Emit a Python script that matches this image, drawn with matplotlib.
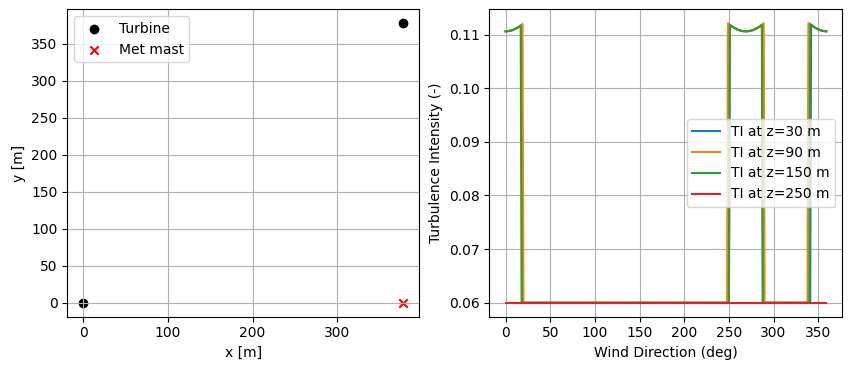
import numpy as np
import matplotlib
matplotlib.use("Agg")
import matplotlib.pyplot as plt

# ---- Layout data (left panel) ----
turbine_x = [0, 378]
turbine_y = [0, 378]
mast_x = [378]
mast_y = [0]

# ---- TI data (right panel) ----
wind_dir = list(range(0, 360))
ti_ambient = 0.06
# TI inside a wake sector, by angular offset from the sector centre (0..20 deg)
sector_profile = [0.11060, 0.11060, 0.11062, 0.11063, 0.11066, 0.11069, 0.11073,
                  0.11078, 0.11084, 0.11090, 0.11098, 0.11105, 0.11114, 0.11123,
                  0.11133, 0.11144, 0.11156, 0.11168, 0.11181, 0.11195, 0.11210]
# wake sectors (start, end) per height
sectors_30 = [(342, 359), (0, 18), (251, 287)]
sectors_90 = [(339, 359), (0, 19), (249, 289)]
sectors_150 = [(341, 359), (0, 17), (251, 287)]
sectors_250 = []
labels = ["TI at z=30 m", "TI at z=90 m", "TI at z=150 m", "TI at z=250 m"]
centres = [0, 269]


def build(sectors):
    vals = []
    for d in wind_dir:
        v = ti_ambient
        for (a, b) in sectors:
            if a <= d <= b:
                off = min(abs(d - c) if c else min(d, 360 - d) for c in centres)
                off = min(off, 20)
                v = sector_profile[off]
        vals.append(v)
    return vals


fig = plt.figure(figsize=(8.51, 3.71), dpi=100)
ax1 = fig.add_axes([67.3 / 851, 54.3 / 371, 352 / 851, 307.4 / 371])
ax2 = fig.add_axes([489.5 / 851, 54.3 / 371, 352.8 / 851, 307.4 / 371])

ax1.scatter(turbine_x, turbine_y, color="black", label="Turbine")
ax1.scatter(mast_x, mast_y, color="red", marker="x", label="Met mast")
ax1.set_xlabel("x [m]")
ax1.set_ylabel("y [m]")
ax1.grid(True)
ax1.legend(loc="upper left")

for sec, lab in zip([sectors_30, sectors_90, sectors_150, sectors_250], labels):
    ax2.plot(wind_dir, build(sec), label=lab)
ax2.set_xlabel("Wind Direction (deg)")
ax2.set_ylabel("Turbulence Intensity (-)")
ax2.grid(True)
ax2.legend(loc="center right")

fig.savefig("out.png", dpi=100)
